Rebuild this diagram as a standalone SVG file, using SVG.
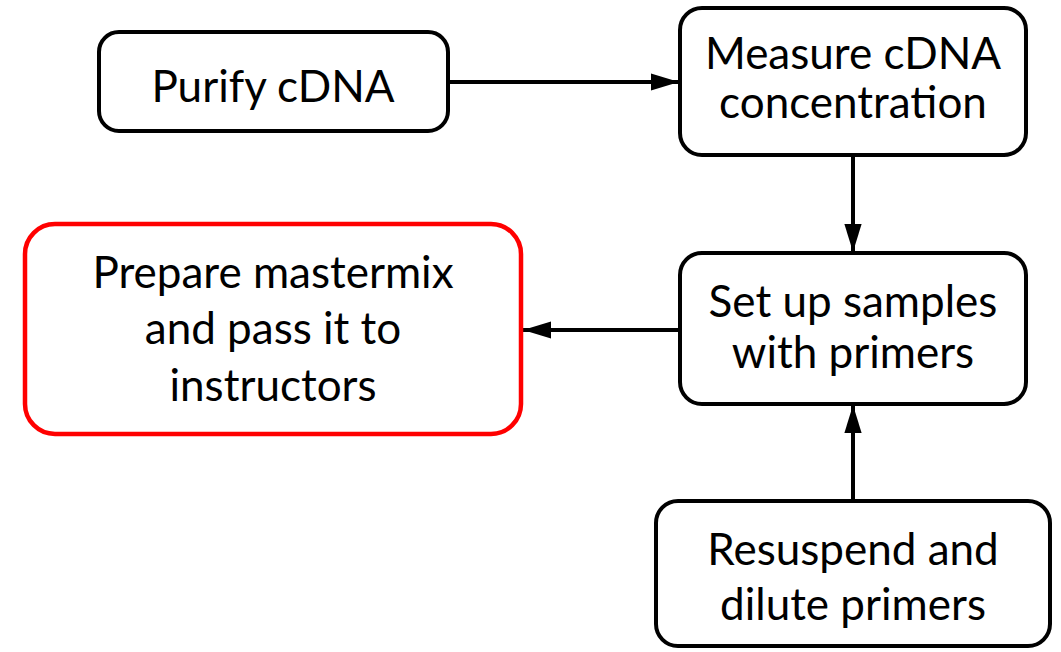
<svg xmlns="http://www.w3.org/2000/svg" width="1061" height="652" viewBox="0 0 1061 652">
<defs>
<style>
.box{fill:#fff;stroke:#000;stroke-width:4}
.red{fill:#fff;stroke:#ff0000;stroke-width:4.5}
.t{font-family:Lato,"Open Sans",sans-serif;font-size:44px;fill:#000;text-anchor:middle}
.c{stroke:#000;stroke-width:4;fill:none;marker-end:url(#ah)}
</style>
<marker id="ah" markerUnits="userSpaceOnUse" markerWidth="28" markerHeight="18" viewBox="0 0 26 16" refX="26" refY="8" orient="auto">
<path d="M0,0 L26,8 L0,16 Z" fill="#000"/>
</marker>
</defs>
<rect width="1061" height="652" fill="#fff"/>
<g id="connectors">
<line class="c" x1="448" y1="82" x2="679" y2="82"/>
<line class="c" x1="853" y1="155" x2="853" y2="252"/>
<line class="c" x1="680" y1="330" x2="523" y2="330"/>
<line class="c" x1="853" y1="501" x2="853" y2="405"/>
</g>
<g id="purify">
<rect class="box" x="99" y="32" width="349" height="99" rx="20"/>
<text class="t" x="273" y="102">Purify cDNA</text>
</g>
<g id="measure">
<rect class="box" x="680" y="8" width="346" height="147" rx="22"/>
<text class="t" x="853" y="69">Measure cDNA</text>
<text class="t" x="853" y="118">concentration</text>
</g>
<g id="setup">
<rect class="box" x="680" y="253" width="346" height="151" rx="22"/>
<text class="t" x="853" y="317">Set up samples</text>
<text class="t" x="853" y="368">with primers</text>
</g>
<g id="prepare">
<rect class="red" x="25" y="224" width="496" height="210" rx="30"/>
<text class="t" x="273" y="288">Prepare mastermix</text>
<text class="t" x="273" y="344">and pass it to</text>
<text class="t" x="273" y="401">instructors</text>
</g>
<g id="resuspend">
<rect class="box" x="656" y="501" width="394" height="145" rx="22"/>
<text class="t" x="853" y="565">Resuspend and</text>
<text class="t" x="853" y="620">dilute primers</text>
</g>
</svg>
